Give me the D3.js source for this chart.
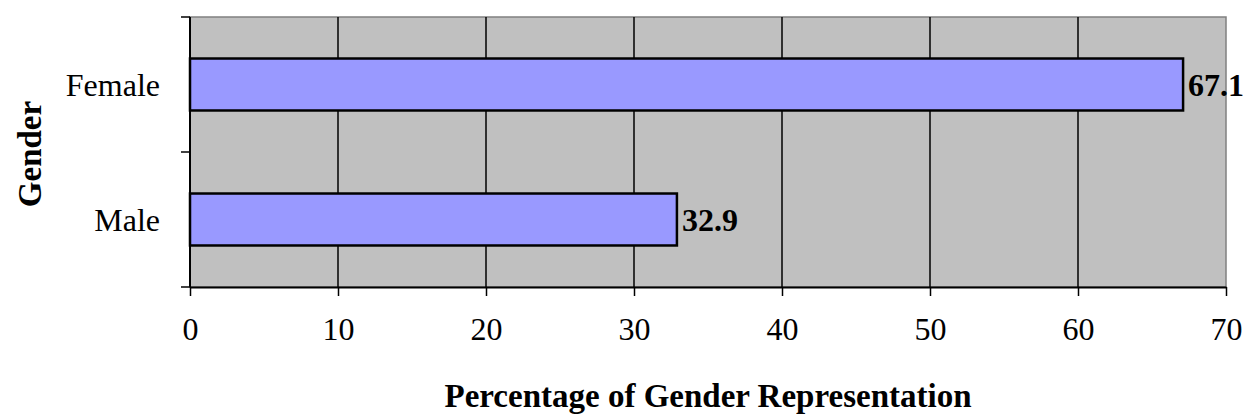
<!DOCTYPE html>
<html>
<head>
<meta charset="utf-8">
<script src="https://cdn.jsdelivr.net/npm/d3@7/dist/d3.min.js"></script>
<style>
  html, body { margin: 0; padding: 0; background: #ffffff; }
  svg { display: block; }
  text { font-family: "Liberation Serif", "Times New Roman", serif; fill: #000; }
</style>
</head>
<body>
<svg id="chart" width="1244" height="415"></svg>
<script>
// Gender representation (percent)
const categories = ["Female", "Male"];
const percentages = [67.1, 32.9];
const xTicks = [0, 10, 20, 30, 40, 50, 60, 70];
const xTitle = "Percentage of Gender Representation";
const yTitle = "Gender";

const W = 1244, H = 415;
const margin = { top: 17, right: 18, bottom: 128, left: 190 };
const plotW = W - margin.left - margin.right;
const plotH = H - margin.top - margin.bottom;

const svg = d3.select("#chart");
const g = svg.append("g").attr("transform", `translate(${margin.left},${margin.top})`);

const x = d3.scaleLinear().domain([0, 70]).range([0, plotW]);
const y = d3.scaleBand().domain(categories).range([0, plotH]).padding(0);
const barH = y.bandwidth() * 0.385;

// plot background with grey frame
g.append("rect")
  .attr("x", 0).attr("y", 0)
  .attr("width", plotW).attr("height", plotH)
  .attr("fill", "#c0c0c0")
  .attr("stroke", "#808080")
  .attr("stroke-width", 1.5);

// vertical gridlines
g.append("g")
  .selectAll("line")
  .data(xTicks.slice(1, -1))
  .join("line")
  .attr("x1", d => x(d)).attr("x2", d => x(d))
  .attr("y1", 0).attr("y2", plotH)
  .attr("stroke", "#000")
  .attr("stroke-width", 1.5);

// bars
g.append("g")
  .selectAll("rect")
  .data(categories)
  .join("rect")
  .attr("x", x(0))
  .attr("y", d => y(d) + y.bandwidth() / 2 - barH / 2)
  .attr("width", (d, i) => x(percentages[i]) - x(0))
  .attr("height", barH)
  .attr("fill", "#9999ff")
  .attr("stroke", "#000")
  .attr("stroke-width", 2.5);

// value labels
g.append("g")
  .selectAll("text")
  .data(categories)
  .join("text")
  .attr("x", (d, i) => x(percentages[i]) + 5)
  .attr("y", d => y(d) + y.bandwidth() / 2)
  .attr("dy", "0.35em")
  .attr("font-size", 32)
  .attr("font-weight", "bold")
  .text((d, i) => percentages[i].toFixed(1));

// x axis
const xAxis = d3.axisBottom(x)
  .tickValues(xTicks)
  .tickSize(9)
  .tickPadding(21)
  .tickSizeOuter(0);
const gx = g.append("g").attr("transform", `translate(0,${plotH})`).call(xAxis);
gx.select(".domain").attr("stroke", "#000").attr("stroke-width", 2);
gx.selectAll(".tick line").attr("stroke", "#000").attr("stroke-width", 1.5);
gx.selectAll(".tick text")
  .attr("font-size", 32)
  .attr("font-family", "Liberation Serif, Times New Roman, serif")
  .attr("fill", "#000");

// y axis: category labels centred in bands, ticks on band boundaries
const gy = g.append("g");
gy.append("line")
  .attr("x1", 0).attr("x2", 0)
  .attr("y1", 0).attr("y2", plotH)
  .attr("stroke", "#000").attr("stroke-width", 2);
const boundaries = [0, ...categories.map(c => y(c) + y.bandwidth())];
gy.selectAll(".ytick")
  .data(boundaries)
  .join("line")
  .attr("class", "ytick")
  .attr("x1", -9).attr("x2", 0)
  .attr("y1", d => d).attr("y2", d => d)
  .attr("stroke", "#000").attr("stroke-width", 1.5);
gy.selectAll(".ylabel")
  .data(categories)
  .join("text")
  .attr("class", "ylabel")
  .attr("x", -30)
  .attr("y", d => y(d) + y.bandwidth() / 2)
  .attr("dy", "0.35em")
  .attr("text-anchor", "end")
  .attr("font-size", 32)
  .text(d => d);

// axis titles
svg.append("text")
  .attr("x", margin.left + plotW / 2)
  .attr("y", 407)
  .attr("text-anchor", "middle")
  .attr("font-size", 33)
  .attr("font-weight", "bold")
  .text(xTitle);

svg.append("text")
  .attr("transform", `translate(41,${margin.top + plotH / 2 + 2}) rotate(-90)`)
  .attr("text-anchor", "middle")
  .attr("font-size", 33)
  .attr("font-weight", "bold")
  .text(yTitle);
</script>
</body>
</html>
